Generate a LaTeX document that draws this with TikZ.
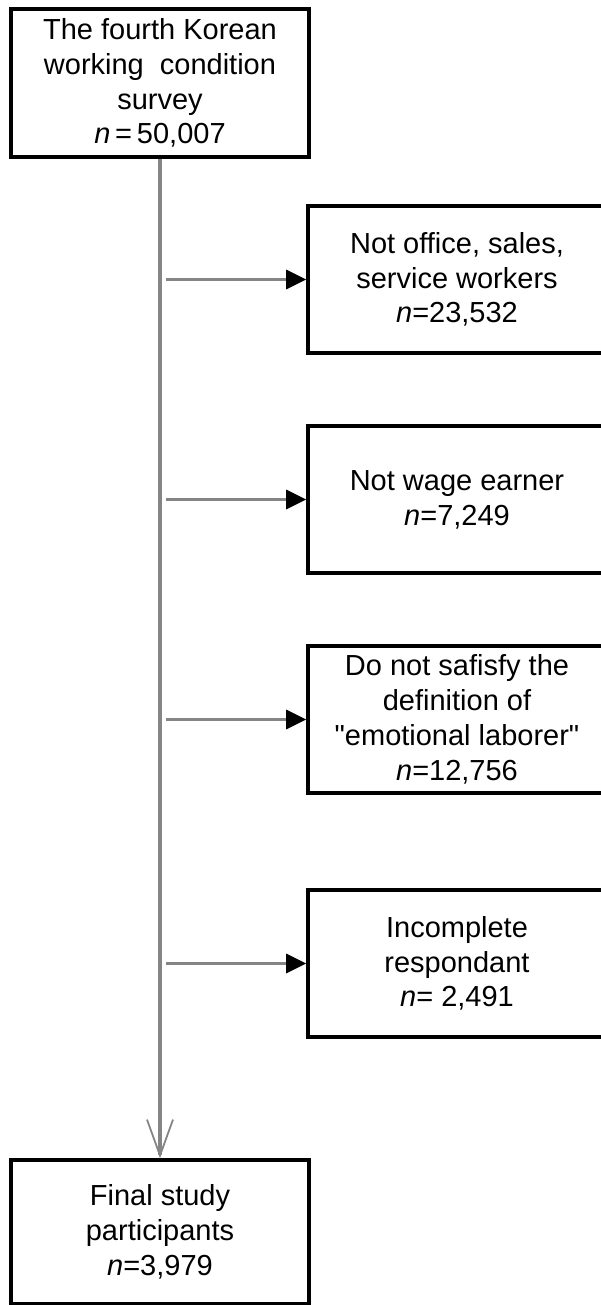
\documentclass[tikz,border=0pt]{standalone}
\usepackage{fontspec}
\setmainfont{Liberation Sans}
\usetikzlibrary{arrows.meta}
\usetikzlibrary{calc}

\begin{document}
\begin{tikzpicture}[x=0.5pt,y=-0.5pt,
		box/.style={draw,line width=1.8pt,minimum width=149pt,minimum height=73.5pt,inner sep=0pt,align=center,font=\fontsize{14.5}{17.4}\selectfont},
		trunk/.style={draw=black!48,line width=1.7pt},
		branch/.style={draw=black!48,line width=1.7pt,-{Triangle[length=10pt,width=9.5pt,color=black]}}]
		\useasboundingbox (0,0) rectangle (600,1305);
		\node[box,minimum height=74pt] (survey) at (160,83) {The fourth Korean\\working\ \ condition\\survey\\\textit{n}\,=\,50,007};
		\node[box] (office) at (457,279.5) {Not office, sales,\\service workers\\\textit{n}=23,532};
		\node[box] (wage) at (457,499.5) {Not wage earner\\\textit{n}=7,249};
		\node[box] (emotion) at (457,719.5) {Do not safisfy the\\definition of\\\textquotedbl emotional laborer\textquotedbl\\\textit{n}=12,756};
		\node[box] (incompl) at (457,963.5) {Incomplete\\respondant\\\textit{n}= 2,491};
		\node[box,minimum height=72pt] (final) at (160,1232) {Final study\\participants\\\textit{n}=3,979};
		\draw[trunk,-{Straight Barb[length=18pt,width=13pt,line width=0.9pt]}] (survey) -- (final);
		\draw[branch] ($(survey.south |- office.west)+(6,0)$) -- (office.west);
		\draw[branch] ($(survey.south |- wage.west)+(6,0)$) -- (wage.west);
		\draw[branch] ($(survey.south |- emotion.west)+(6,0)$) -- (emotion.west);
		\draw[branch] ($(survey.south |- incompl.west)+(6,0)$) -- (incompl.west);
	\end{tikzpicture}
\end{document}
